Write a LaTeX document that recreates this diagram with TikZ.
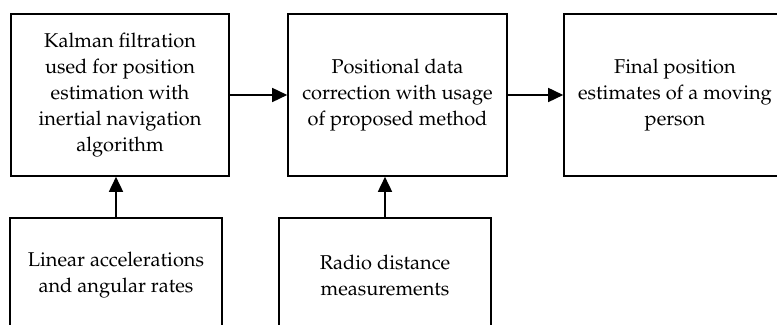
\documentclass[tikz,border=0pt]{standalone}
\usepackage[T1]{fontenc}
\usepackage{mathpazo}
\usepackage{tikz}
\usetikzlibrary{arrows.meta,positioning}

\begin{document}
\begin{tikzpicture}[x=0.5pt,y=-0.5pt,
  block/.style={draw,line width=0.8pt,align=center,inner sep=2pt,
    font=\fontsize{10}{13}\selectfont},
  flow/.style={line width=0.8pt,-{Triangle[length=7.5pt,width=7pt]}}]
  \useasboundingbox (0,0) rectangle (777,325);
  % upper row
  \node[block,minimum width=109pt,minimum height=81pt] (kalman) at (120,95)
    {Kalman filtration\\used for position\\estimation with\\inertial navigation\\algorithm};
  \node[block,minimum width=109.5pt,minimum height=81pt] (correct) at (397.5,95)
    {Positional data\\correction with usage\\of proposed method};
  \node[block,minimum width=111pt,minimum height=81pt] (final) at (675,95)
    {Final position\\estimates of a moving\\person};
  % lower row
  \node[block,minimum width=106pt,minimum height=57pt] (accel) at (116,275)
    {Linear accelerations\\and angular rates};
  \node[block,minimum width=106pt,minimum height=57pt] (radio) at (385,275)
    {Radio distance\\measurements};
  \draw[flow] (kalman) -- (correct);
  \draw[flow] (correct) -- (final);
  \draw[flow] (accel.north) -- (accel.north |- kalman.south);
  \draw[flow] (radio.north) -- (radio.north |- correct.south);
\end{tikzpicture}
\end{document}
